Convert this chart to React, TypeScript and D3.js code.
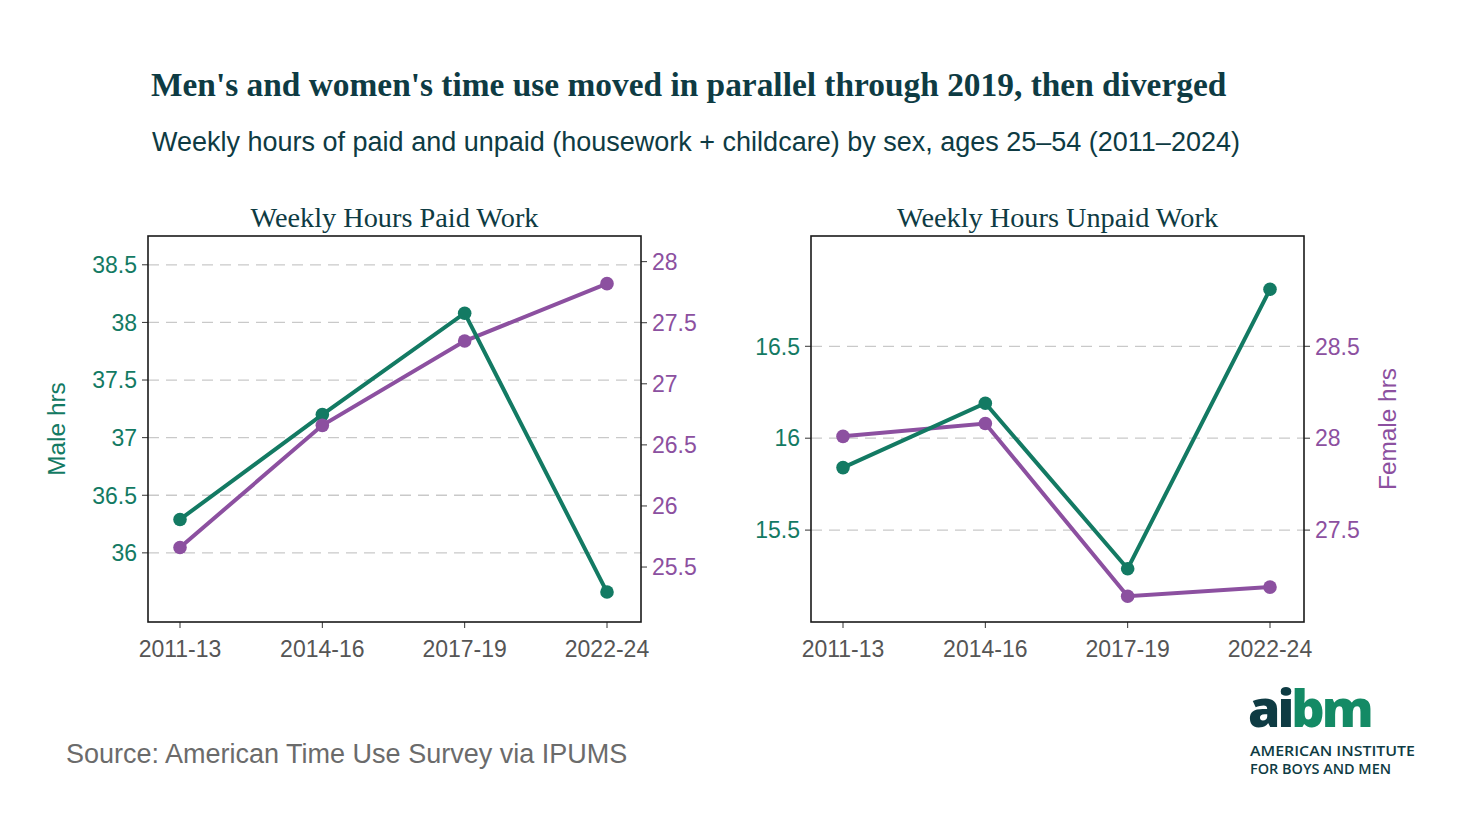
import React from 'react';
import * as d3 from 'd3';

// Data
const periods = ['2011-13', '2014-16', '2017-19', '2022-24'];

const paidMale = [36.29, 37.2, 38.08, 35.66];
const paidFemale = [25.66, 26.66, 27.35, 27.82];
const paidMaleTicks = [36, 36.5, 37, 37.5, 38, 38.5];
const paidFemaleTicks = [25.5, 26, 26.5, 27, 27.5, 28];

const unpaidMale = [15.84, 16.19, 15.29, 16.81];
const unpaidFemale = [28.01, 28.08, 27.14, 27.19];
const unpaidMaleTicks = [15.5, 16, 16.5];
const unpaidFemaleTicks = [27.5, 28, 28.5];

const GREEN = '#137a63';
const PURPLE = '#8c50a0';
const DARK = '#0e3b43';
const SANS = '"Liberation Sans", Arial, sans-serif';
const SERIF = '"Liberation Serif", "Times New Roman", serif';

interface PanelProps {
  x0: number;
  title: string;
  male: number[];
  female: number[];
  maleDomain: [number, number];
  femaleDomain: [number, number];
  maleTicks: number[];
  femaleTicks: number[];
  maleLabel?: string;
  femaleLabel?: string;
}

const Panel = ({ x0, title, male, female, maleDomain, femaleDomain, maleTicks, femaleTicks, maleLabel, femaleLabel }: PanelProps) => {
  const width = 493;
  const top = 236;
  const bottom = 622;

  const x = d3.scalePoint<string>().domain(periods).range([x0 + 32, x0 + width - 34]);
  const yM = d3.scaleLinear().domain(maleDomain).range([bottom, top]);
  const yF = d3.scaleLinear().domain(femaleDomain).range([bottom, top]);

  const lineM = d3.line<number>().x((_, i) => x(periods[i])!).y(d => yM(d));
  const lineF = d3.line<number>().x((_, i) => x(periods[i])!).y(d => yF(d));

  const fmt = (v: number) => d3.format('~g')(v);

  return (
    <g>
      <text x={x0 + width / 2} y={227} textAnchor="middle" fontFamily={SERIF} fontSize={28.3} fill={DARK}>{title}</text>

      {/* grid */}
      {maleTicks.map(t => (
        <line key={'g' + t} x1={x0} x2={x0 + width} y1={yM(t)} y2={yM(t)} stroke="#c9c9c9" strokeWidth={1.3} strokeDasharray="11 7" />
      ))}

      {/* left axis */}
      {maleTicks.map(t => (
        <g key={'l' + t}>
          <line x1={x0 - 6} x2={x0} y1={yM(t)} y2={yM(t)} stroke="#333" strokeWidth={1} />
          <text x={x0 - 11} y={yM(t)} dy="0.36em" textAnchor="end" fontFamily={SANS} fontSize={23} fill={GREEN}>{fmt(t)}</text>
        </g>
      ))}

      {/* right axis */}
      {femaleTicks.map(t => (
        <g key={'r' + t}>
          <line x1={x0 + width} x2={x0 + width + 6} y1={yF(t)} y2={yF(t)} stroke="#333" strokeWidth={1} />
          <text x={x0 + width + 11} y={yF(t)} dy="0.36em" textAnchor="start" fontFamily={SANS} fontSize={23} fill={PURPLE}>{fmt(t)}</text>
        </g>
      ))}

      {/* x axis */}
      {periods.map(p => (
        <g key={p}>
          <line x1={x(p)} x2={x(p)} y1={bottom} y2={bottom + 6} stroke="#333" strokeWidth={1} />
          <text x={x(p)} y={657} textAnchor="middle" fontFamily={SANS} fontSize={23} fill="#555">{p}</text>
        </g>
      ))}

      <rect x={x0} y={top} width={width} height={bottom - top} fill="none" stroke="#1a1a1a" strokeWidth={1.6} />

      <path d={lineF(female) || ''} fill="none" stroke={PURPLE} strokeWidth={4} />
      <path d={lineM(male) || ''} fill="none" stroke={GREEN} strokeWidth={4} />
      {male.map((v, i) => (
        <circle key={'m' + i} cx={x(periods[i])} cy={yM(v)} r={6.8} fill={GREEN} />
      ))}
      {female.map((v, i) => (
        <circle key={'f' + i} cx={x(periods[i])} cy={yF(v)} r={6.8} fill={PURPLE} />
      ))}

      {maleLabel && (
        <text transform={`translate(${x0 - 83},${(top + bottom) / 2}) rotate(-90)`} textAnchor="middle" fontFamily={SANS} fontSize={24.4} fill={GREEN}>{maleLabel}</text>
      )}
      {femaleLabel && (
        <text transform={`translate(${x0 + width + 92},${(top + bottom) / 2}) rotate(-90)`} textAnchor="middle" fontFamily={SANS} fontSize={24.4} fill={PURPLE}>{femaleLabel}</text>
      )}
    </g>
  );
};

const App = () => {
  return (
    <svg width={1480} height={832} style={{ position: 'absolute', left: 0, top: 0, background: '#fff' }}>
      <rect width={1480} height={832} fill="#fff" />

      <text x={151} y={96} fontFamily={SERIF} fontWeight="bold" fontSize={33.4} fill={DARK}>
        Men's and women's time use moved in parallel through 2019, then diverged
      </text>
      <text x={152} y={151} fontFamily={SANS} fontSize={27} fill={DARK}>
        Weekly hours of paid and unpaid (housework + childcare) by sex, ages 25–54 (2011–2024)
      </text>

      <Panel
        x0={148}
        title="Weekly Hours Paid Work"
        male={paidMale}
        female={paidFemale}
        maleDomain={[35.4, 38.75]}
        femaleDomain={[25.05, 28.21]}
        maleTicks={paidMaleTicks}
        femaleTicks={paidFemaleTicks}
        maleLabel="Male hrs"
      />
      <Panel
        x0={811}
        title="Weekly Hours Unpaid Work"
        male={unpaidMale}
        female={unpaidFemale}
        maleDomain={[15.0, 17.1]}
        femaleDomain={[27.0, 29.1]}
        maleTicks={unpaidMaleTicks}
        femaleTicks={unpaidFemaleTicks}
        femaleLabel="Female hrs"
      />

      <text x={66} y={763} fontFamily={SANS} fontSize={27} fill="#6b6b6b">Source: American Time Use Survey via IPUMS</text>

      {/* logo */}
      <g fontFamily='"Open Sans", sans-serif'>
        <text x={1248} y={727} fontSize={52} fontWeight={800} letterSpacing={-3}>
          <tspan fill={DARK}>ai</tspan>
          <tspan fill="#148a65">bm</tspan>
        </text>
        <text x={1250} y={756} fontSize={15} fontWeight={600} fill={DARK} textLength={165} lengthAdjust="spacingAndGlyphs">AMERICAN INSTITUTE</text>
        <text x={1250} y={774} fontSize={15} fontWeight={600} fill={DARK} textLength={141} lengthAdjust="spacingAndGlyphs">FOR BOYS AND MEN</text>
      </g>
    </svg>
  );
};

export default App;
